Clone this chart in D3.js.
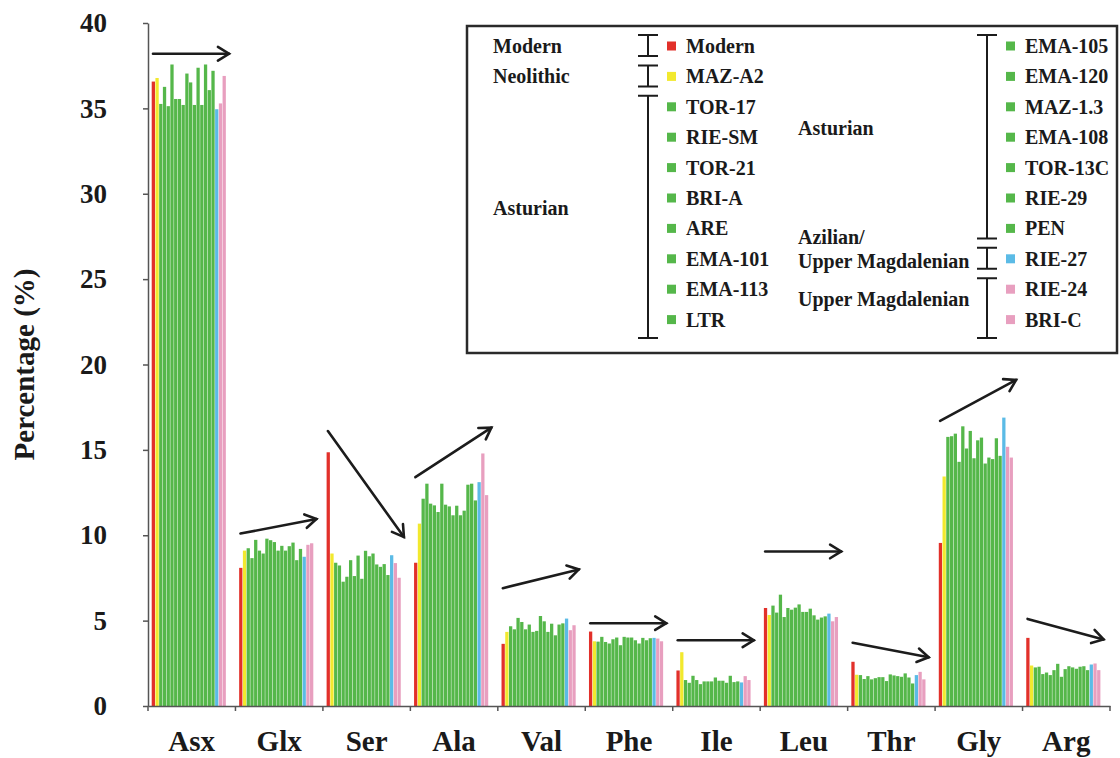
<!DOCTYPE html>
<html>
<head>
<meta charset="utf-8">
<script src="https://cdn.jsdelivr.net/npm/d3@7"></script>
<style>
body { margin: 0; background: #fff; }
svg text { font-family: 'Liberation Serif', 'Times New Roman', Times, 'DejaVu Serif', serif !important; font-weight: bold; fill: #1a1a1a; }
</style>
</head>
<body>
<svg id="chart" width="1120" height="758"></svg>
<script>
var categories = ['Asx', 'Glx', 'Ser', 'Ala', 'Val', 'Phe', 'Ile', 'Leu', 'Thr', 'Gly', 'Arg'];
var samples = ['Modern', 'MAZ-A2', 'TOR-17', 'RIE-SM', 'TOR-21', 'BRI-A', 'ARE', 'EMA-101', 'EMA-113', 'LTR',
    'EMA-105', 'EMA-120', 'MAZ-1.3', 'EMA-108', 'TOR-13C', 'RIE-29', 'PEN', 'RIE-27', 'RIE-24', 'BRI-C'];
var periods = ['Modern', 'Neolithic', 'Asturian', 'Asturian', 'Asturian', 'Asturian', 'Asturian', 'Asturian', 'Asturian', 'Asturian',
    'Asturian', 'Asturian', 'Asturian', 'Asturian', 'Asturian', 'Asturian', 'Asturian', 'Azilian', 'UpperMag', 'UpperMag'];
var periodNames = {
    'Modern': ['Modern'],
    'Neolithic': ['Neolithic'],
    'Asturian': ['Asturian'],
    'Azilian': ['Azilian/', 'Upper Magdalenian'],
    'UpperMag': ['Upper Magdalenian']
};

// percentages per amino acid, in sample order
var asx = [36.57, 36.78, 35.26, 36.26, 35.13, 37.57, 35.55, 35.55, 35.2, 37.04, 36.52, 35.2, 37.38, 35.2, 37.57, 36.07, 37.2, 34.95, 35.29, 36.9];
var glx = [8.09, 9.1, 9.24, 8.66, 9.73, 9.1, 8.93, 9.8, 9.71, 9.6, 9.1, 9.38, 9.1, 9.36, 9.57, 8.54, 9.2, 8.74, 9.44, 9.53];
var ser = [14.86, 8.93, 8.39, 8.23, 7.28, 7.57, 8.54, 7.61, 8.81, 7.45, 9.09, 8.77, 8.93, 8.29, 8.15, 8.31, 7.67, 8.83, 8.37, 7.51];
var ala = [8.39, 10.68, 12.14, 13.02, 11.85, 11.75, 11.36, 13.02, 11.79, 11.69, 11.17, 11.73, 11.17, 11.44, 12.96, 13.02, 12.04, 13.11, 14.79, 12.35];
var val = [3.64, 4.34, 4.67, 4.49, 5.16, 4.92, 4.49, 4.77, 4.34, 4.4, 5.27, 4.96, 4.34, 4.82, 4.14, 4.77, 4.84, 5.12, 4.44, 4.73];
var phe = [4.36, 3.79, 3.77, 4.05, 3.75, 3.66, 3.91, 4.01, 3.56, 4.05, 4.01, 4.01, 3.85, 3.66, 3.99, 3.85, 3.97, 3.99, 3.95, 3.79];
var ile = [2.08, 3.15, 1.52, 1.36, 1.77, 1.52, 1.28, 1.44, 1.44, 1.44, 1.67, 1.48, 1.48, 1.36, 1.77, 1.4, 1.44, 1.38, 1.75, 1.52];
var leu = [5.74, 5.33, 5.88, 5.47, 6.52, 5.21, 5.74, 5.64, 5.76, 5.95, 5.51, 5.51, 5.7, 5.31, 5.06, 5.18, 5.25, 5.41, 4.96, 5.21];
var thr = [2.59, 1.83, 1.81, 1.58, 1.75, 1.56, 1.63, 1.69, 1.69, 1.46, 1.85, 1.79, 1.75, 1.71, 1.91, 1.67, 1.32, 1.81, 2.0, 1.56];
var gly = [9.55, 13.44, 15.76, 15.8, 15.95, 14.3, 16.38, 15.08, 16.11, 14.51, 15.56, 15.72, 14.2, 14.55, 14.46, 15.68, 14.65, 16.89, 15.18, 14.55];
var arg = [3.99, 2.37, 2.26, 2.3, 1.87, 1.96, 1.81, 2.1, 2.47, 1.71, 2.16, 2.33, 2.26, 2.18, 2.3, 2.33, 2.1, 2.43, 2.49, 2.1];
var values = [asx, glx, ser, ala, val, phe, ile, leu, thr, gly, arg];

// trend arrows, start and end level in percent
var arrowStart = [38.2, 10.1, 16.1, 13.4, 6.9, 4.85, 3.85, 9.05, 3.7, 16.7, 5.1];
var arrowEnd   = [38.2, 10.95, 9.9, 16.3, 8.0, 4.85, 3.85, 9.05, 2.85, 19.1, 3.9];

var yTicks = [0, 5, 10, 15, 20, 25, 30, 35, 40];

var svg = d3.select('#chart');
var plot = {l: 148, r: 1110, t: 23, b: 706};

var xScale = d3.scaleBand().domain(categories).range([plot.l, plot.r]);
var innerScale = d3.scaleBand().domain(samples).range([3.7, 78.3]);
var yScale = d3.scaleLinear().domain([0, 40]).range([plot.b, plot.t]);
var colorScale = d3.scaleOrdinal()
    .domain(['Modern', 'Neolithic', 'Asturian', 'Azilian', 'UpperMag'])
    .range(['#e2302a', '#f2e92e', '#55b74a', '#5bbbe6', '#e89fbf']);

// bars
var groups = svg.append('g').selectAll('g')
    .data(categories)
    .enter()
    .append('g')
    .attr('transform', function(d) { return 'translate(' + xScale(d) + ',0)'; });

groups.selectAll('rect')
    .data(function(d, i) {
        return samples.map(function(s, j) { return {sample: s, period: periods[j], value: values[i][j]}; });
    })
    .enter()
    .append('rect')
    .attr('x', function(d) { return innerScale(d.sample); })
    .attr('y', function(d) { return yScale(d.value); })
    .attr('width', innerScale.bandwidth() - 0.45)
    .attr('height', function(d) { return yScale(0) - yScale(d.value); })
    .attr('fill', function(d) { return colorScale(d.period); });

// y axis
var yAxis = svg.append('g')
    .attr('transform', 'translate(' + plot.l + ',0)')
    .call(d3.axisLeft(yScale).tickValues(yTicks).tickSize(5).tickSizeOuter(0).tickPadding(36));
yAxis.attr('font-family', null);
yAxis.selectAll('text').style('font-size', '27px');

// x axis: labels centred on the bands, ticks on the band edges
var xAxis = svg.append('g')
    .attr('transform', 'translate(0,' + plot.b + ')')
    .call(d3.axisBottom(xScale).tickSize(0).tickSizeOuter(0).tickPadding(24));
xAxis.attr('font-family', null);
xAxis.selectAll('text').style('font-size', '29px');
xAxis.selectAll('.edge')
    .data(categories.map(function(d) { return xScale(d); }).concat([plot.r]))
    .enter()
    .append('line')
    .attr('class', 'edge')
    .attr('x1', function(d) { return d; })
    .attr('x2', function(d) { return d; })
    .attr('y1', 0)
    .attr('y2', 5);

svg.selectAll('.domain, .tick line, .edge')
    .attr('stroke', '#555')
    .attr('stroke-width', 1.5);

svg.append('text')
    .attr('transform', 'translate(34,' + ((plot.t + plot.b) / 2) + ') rotate(-90)')
    .attr('text-anchor', 'middle')
    .style('font-size', '29px')
    .text('Percentage (%)');

// arrows
var arrows = svg.append('g')
    .attr('stroke', '#1c1c1c')
    .attr('stroke-width', 2.6)
    .attr('fill', 'none')
    .attr('stroke-linecap', 'round');

categories.forEach(function(c, i) {
    var x0 = xScale(c) + 5, x1 = xScale(c) + 81;
    var y0 = yScale(arrowStart[i]), y1 = yScale(arrowEnd[i]);
    var ang = Math.atan2(y1 - y0, x1 - x0);
    var len = 13, spread = 0.55;
    arrows.append('line').attr('x1', x0).attr('y1', y0).attr('x2', x1).attr('y2', y1);
    arrows.append('path')
        .attr('stroke-linejoin', 'miter')
        .attr('d', 'M' + [x1 - len * Math.cos(ang - spread), y1 - len * Math.sin(ang - spread)] +
            'L' + [x1, y1] +
            'L' + [x1 - len * Math.cos(ang + spread), y1 - len * Math.sin(ang + spread)]);
});

// legend
var legend = svg.append('g');
legend.append('rect')
    .attr('x', 467).attr('y', 26)
    .attr('width', 650).attr('height', 327)
    .attr('fill', '#fff')
    .attr('stroke', '#2a2a2a')
    .attr('stroke-width', 2.5);

var columns = [
    {from: 0, to: 10, bracketX: 648, nameX: 493},
    {from: 10, to: 20, bracketX: 987, nameX: 798}
];
function rowY(r) { return 46 + r * 30.4; }

columns.forEach(function(col) {
    var g = legend.append('g');
    var rows = d3.range(col.from, col.to);

    g.selectAll('.sw')
        .data(rows)
        .enter()
        .append('rect')
        .attr('x', col.bracketX + 19)
        .attr('y', function(r) { return rowY(r - col.from) - 4.5; })
        .attr('width', 9)
        .attr('height', 9)
        .attr('fill', function(r) { return colorScale(periods[r]); });

    g.selectAll('.lab')
        .data(rows)
        .enter()
        .append('text')
        .attr('x', col.bracketX + 38)
        .attr('y', function(r) { return rowY(r - col.from); })
        .attr('dy', '0.35em')
        .style('font-size', '20px')
        .text(function(r) { return samples[r]; });

    // consecutive rows of one period share a bracket
    var spans = [];
    rows.forEach(function(r) {
        var last = spans[spans.length - 1];
        if (last && last.period === periods[r]) { last.end = r - col.from; }
        else { spans.push({period: periods[r], start: r - col.from, end: r - col.from}); }
    });
    spans.forEach(function(s, k) {
        var top = rowY(s.start) - 11;
        var bottom = k === spans.length - 1 ? 338 : rowY(s.end) + 10;
        var bx = col.bracketX;
        g.append('path')
            .attr('d', 'M' + (bx - 10) + ',' + top + 'H' + (bx + 10) +
                'M' + bx + ',' + top + 'V' + bottom +
                'M' + (bx - 10) + ',' + bottom + 'H' + (bx + 10))
            .attr('stroke', '#1c1c1c')
            .attr('stroke-width', 2)
            .attr('fill', 'none');
        var lines = periodNames[s.period];
        var multi = s.end > s.start || lines.length > 1;
        var cy = multi ? (top + bottom) / 2 - 9 : rowY(s.start);
        lines.forEach(function(t, li) {
            g.append('text')
                .attr('x', col.nameX)
                .attr('y', cy + (li - (lines.length - 1) / 2) * 24)
                .attr('dy', '0.35em')
                .style('font-size', '20px')
                .text(t);
        });
    });
});
</script>
</body>
</html>
